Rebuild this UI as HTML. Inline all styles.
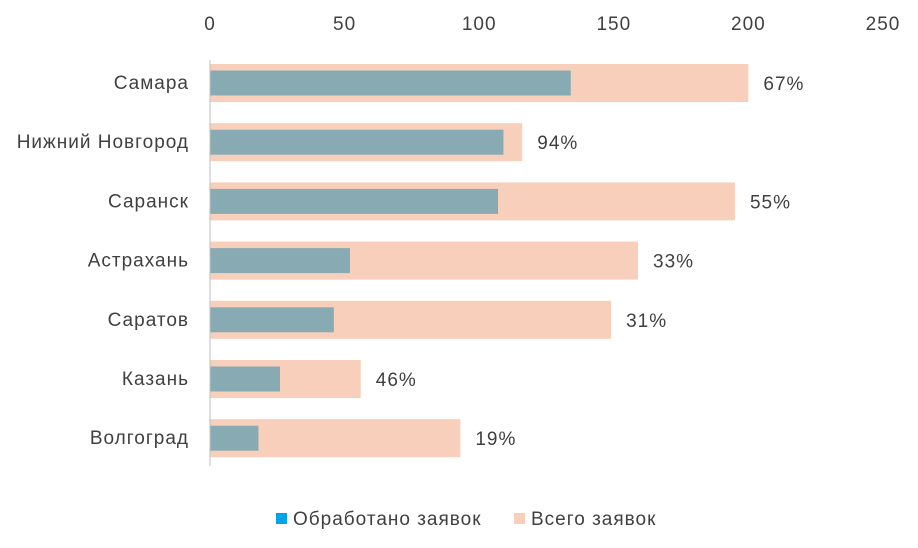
<!DOCTYPE html>
<html><head><meta charset="utf-8"><style>
body{margin:0;background:#fff;}
svg{display:block;font-family:"Liberation Sans",sans-serif;}
svg text{letter-spacing:1px;}
</style></head><body>
<svg id="chart" width="918" height="548"></svg>
<script>
const categories=["Самара","Нижний Новгород","Саранск","Астрахань","Саратов","Казань","Волгоград"];
const totalValues=[200,116,195,159,149,56,93];
const processedValues=[134,109,107,52,46,26,18];
const tickLabels=[0,50,100,150,200,250];
const NS="http://www.w3.org/2000/svg";
const svg=document.getElementById('chart');
const x0=210,pxPer=(883-210)/250;
const xs=v=>x0+v*pxPer;
const yc=i=>83+i*59.2;
function mk(t,a,txt){const e=document.createElementNS(NS,t);for(const k in a)e.setAttribute(k,a[k]);if(txt!==undefined)e.textContent=txt;svg.appendChild(e);return e;}
tickLabels.forEach(t=>{
 const e=mk('text',{x:xs(t),y:30,'text-anchor':'middle','font-size':19,fill:'#404040'},t);
 
 
});
categories.forEach((c,i)=>{
 const y=yc(i);
 const tb=mk('rect',{x:x0,y:y-19,width:xs(totalValues[i])-x0,height:38,fill:'#F8CFBA'});
 
 
 const pb=mk('rect',{x:x0,y:y-12.5,width:xs(processedValues[i])-x0,height:25,fill:'#88ABB3'});
 
 
 const lb=mk('text',{x:189,y:y+6,'text-anchor':'end','font-size':19,fill:'#404040'},c);
 
 
 const pct=Math.round(processedValues[i]/totalValues[i]*100)+'%';
 const pl=mk('text',{x:xs(totalValues[i])+15,y:y+7,'font-size':19,fill:'#404040'},pct);
 
 
});
const ax=mk('line',{x1:x0,y1:60,x2:x0,y2:466,stroke:'#BFBFBF','stroke-width':1});


const l1=mk('rect',{x:276,y:513,width:11,height:11,fill:'#00A2E8'});


const t1=mk('text',{x:293,y:525,'font-size':19,fill:'#404040'},'Обработано заявок');


const l2=mk('rect',{x:514,y:513,width:11,height:11,fill:'#F8CFBA'});


const t2=mk('text',{x:531,y:525,'font-size':19,fill:'#404040'},'Всего заявок');


</script>
</body></html>
